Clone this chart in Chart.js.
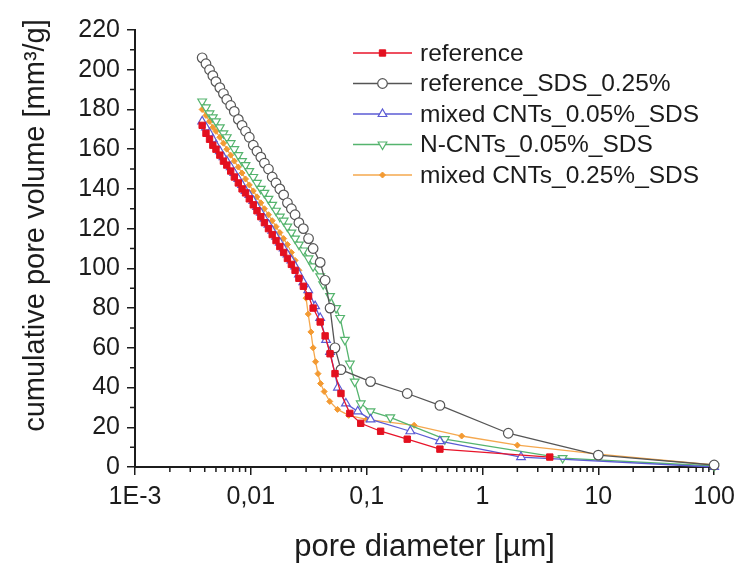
<!DOCTYPE html>
<html>
<head>
<meta charset="utf-8">
<script src="https://cdn.jsdelivr.net/npm/chart.js@4"></script>
<style>
  html, body { margin: 0; padding: 0; background: #fff; }
</style>
</head>
<body>
<canvas id="chart" width="742" height="576"></canvas>
<script>
// pore diameter (µm) vs cumulative pore volume (mm³/g)
const seriesNames = ["reference", "reference_SDS_0.25%", "mixed CNTs_0.05%_SDS", "N-CNTs_0.05%_SDS", "mixed CNTs_0.25%_SDS"];
const yTitle = "cumulative pore volume [mm³/g]";
const xTitle = "pore diameter [µm]";

const baseX = [0.0038, 0.0041, 0.0044, 0.0047, 0.0050, 0.0054, 0.0058, 0.0062, 0.0067, 0.0072, 0.0078, 0.0084, 0.0090, 0.0097,
  0.0105, 0.0113, 0.0122, 0.0131, 0.0142, 0.0153, 0.0165, 0.0178, 0.0192, 0.0207, 0.0224, 0.0241, 0.0260];

const refX = baseX.concat([0.0284, 0.0315, 0.0345, 0.0397, 0.0438, 0.0483, 0.0533, 0.0600, 0.0716, 0.0889, 0.132, 0.224, 0.429, 3.81]);
const refY = [172, 168, 165, 162, 160, 157, 154, 152, 149, 146, 143, 140, 138, 135, 132, 129, 126, 123, 120, 117, 114, 111, 108, 105, 102, 99, 95,
  91, 86, 80, 73, 66, 57, 47, 37, 27, 22, 18, 14, 9, 5];

const refSdsX = baseX.concat([0.0284, 0.0315, 0.0345, 0.0397, 0.0438, 0.0483, 0.0533, 0.0600, 0.108, 0.224, 0.429, 1.67, 10.0, 100]);
const refSdsY = [206, 203, 200, 197, 194, 191, 188, 185, 182, 179, 175, 172, 169, 166, 162, 159, 156, 153, 150, 146, 143, 140, 137, 133, 130, 127, 123,
  120, 115, 110, 103, 94, 80, 60, 49, 43, 37, 31, 17, 6, 1];

const mixed005X = baseX.concat([0.0284, 0.0313, 0.0359, 0.0397, 0.0446, 0.0483, 0.0565, 0.0662, 0.0838, 0.108, 0.238, 0.429, 2.15, 100]);
const mixed005Y = [174, 171, 168, 165, 162, 159, 156, 154, 151, 148, 145, 142, 139, 137, 134, 131, 128, 125, 122, 119, 116, 113, 110, 107, 104, 101, 97,
  93, 89, 81, 75, 64, 58, 40, 32, 28, 24, 18, 13, 5, 0];

const ncntX = baseX.concat([0.0284, 0.0315, 0.0345, 0.0397, 0.0421, 0.0483, 0.0545, 0.0590, 0.0649, 0.0716, 0.0789, 0.0889, 0.108, 0.160, 0.473, 4.92, 100]);
const ncntY = [184, 181, 178, 176, 174, 171, 168, 166, 163, 160, 157, 154, 152, 149, 146, 143, 140, 138, 135, 132, 129, 126, 124, 121, 118, 115, 112,
  109, 105, 101, 96, 92, 86, 80, 75, 64, 52, 43, 32, 28, 25, 14, 4.5, 0.5];

const mixed025X = baseX.concat([0.0284, 0.0300, 0.0313, 0.0330, 0.0345, 0.0362, 0.0380, 0.0400, 0.0430, 0.0480, 0.0560, 0.0700, 0.100, 0.257, 0.661, 2.00, 10.0, 100]);
const mixed025Y = [180, 177, 174, 171, 169, 166, 163, 160, 157, 154, 151, 148, 145, 142, 139, 136, 133, 130, 127, 124, 121, 118, 115, 112, 108, 104, 99,
  92, 85, 77, 68, 60, 53, 47, 42, 38, 33, 29, 26, 24, 21, 15.6, 11, 6.5, 1];

const xTickValues = [0.001, 0.01, 0.1, 1, 10, 100];
const xTickLabels = ["1E-3", "0,01", "0,1", "1", "10", "100"];

const FONT = "'Liberation Sans', Arial, Helvetica, sans-serif";
const INK = "#1c1c1c";

function pts(xs, ys) {
  return xs.map((x, i) => ({ x: x, y: ys[i] }));
}

const datasets = [
  { label: seriesNames[0], data: pts(refX, refY), borderColor: "#e8142a", backgroundColor: "#e3101f",
    pointStyle: "rect", pointRadius: 4.5, pointBorderWidth: 1, pointBorderColor: "#e3101f" },
  { label: seriesNames[1], data: pts(refSdsX, refSdsY), borderColor: "#555555", backgroundColor: "#ffffff",
    pointStyle: "circle", pointRadius: 4.8, pointBorderWidth: 1.2, pointBorderColor: "#555555" },
  { label: seriesNames[2], data: pts(mixed005X, mixed005Y), borderColor: "#5b5bd4", backgroundColor: "#ffffff",
    pointStyle: "triangle", pointRadius: 5, pointBorderWidth: 1.2, pointBorderColor: "#5b5bd4" },
  { label: seriesNames[3], data: pts(ncntX, ncntY), borderColor: "#55b46e", backgroundColor: "#ffffff",
    pointStyle: "triangle", pointRotation: 180, pointRadius: 5, pointBorderWidth: 1.2, pointBorderColor: "#55b46e" },
  { label: seriesNames[4], data: pts(mixed025X, mixed025Y), borderColor: "#f5a84e", backgroundColor: "#f39a32",
    pointStyle: "rectRot", pointRadius: 3, pointBorderWidth: 1, pointBorderColor: "#f39a32" }
].map(d => Object.assign(d, { borderWidth: 1.3, tension: 0, clip: false, showLine: true }));

// small unlabeled ticks between the labelled ones
const minorTicks = {
  id: "minorTicks",
  afterDraw(chart) {
    const ctx = chart.ctx;
    const xs = chart.scales.x, ys = chart.scales.y;
    ctx.save();
    ctx.strokeStyle = INK;
    ctx.lineWidth = 1.5;
    ctx.beginPath();
    for (let e = -3; e < 2; e++) {
      for (let k = 2; k <= 9; k++) {
        const px = xs.getPixelForValue(k * Math.pow(10, e));
        ctx.moveTo(px, xs.top);
        ctx.lineTo(px, xs.top + 5);
      }
    }
    for (let v = 10; v < 220; v += 20) {
      const py = ys.getPixelForValue(v);
      ctx.moveTo(ys.right - 5, py);
      ctx.lineTo(ys.right, py);
    }
    ctx.stroke();
    ctx.restore();
  }
};

// rotated y title, sitting a little above the axis middle
const yAxisTitle = {
  id: "yAxisTitle",
  afterDraw(chart) {
    const ctx = chart.ctx;
    const area = chart.chartArea;
    ctx.save();
    ctx.translate(36, (area.top + area.bottom) / 2 - 23);
    ctx.rotate(-Math.PI / 2);
    ctx.fillStyle = INK;
    ctx.font = "29px " + FONT;
    ctx.textAlign = "center";
    ctx.textBaseline = "middle";
    ctx.fillText(yTitle, 0, 0);
    ctx.restore();
  }
};

// legend drawn as line + marker + text, inside the plot
const lineLegend = {
  id: "lineLegend",
  afterDatasetsDraw(chart) {
    const ctx = chart.ctx;
    const area = chart.chartArea;
    const x0 = area.left + 218, x1 = area.left + 277, tx = area.left + 285;
    const rowH = 30.5;
    ctx.save();
    chart.data.datasets.forEach((ds, i) => {
      const y = area.top + 23 + i * rowH;
      ctx.strokeStyle = ds.borderColor;
      ctx.lineWidth = ds.borderWidth;
      ctx.beginPath();
      ctx.moveTo(x0, y);
      ctx.lineTo(x1, y);
      ctx.stroke();
      ctx.fillStyle = ds.backgroundColor;
      ctx.strokeStyle = ds.pointBorderColor;
      ctx.lineWidth = ds.pointBorderWidth;
      Chart.helpers.drawPoint(ctx, {
        pointStyle: ds.pointStyle,
        rotation: ds.pointRotation || 0,
        radius: ds.pointRadius,
        borderWidth: ds.pointBorderWidth
      }, (x0 + x1) / 2, y);
      ctx.fillStyle = INK;
      ctx.font = "24.5px " + FONT;
      ctx.textBaseline = "middle";
      ctx.textAlign = "left";
      ctx.fillText(ds.label, tx, y + 1);
    });
    ctx.restore();
  }
};

new Chart(document.getElementById("chart"), {
  type: "scatter",
  data: { datasets: datasets },
  plugins: [minorTicks, yAxisTitle, lineLegend],
  options: {
    responsive: false,
    devicePixelRatio: 1,
    animation: false,
    layout: { padding: { left: 0, top: 30, right: 25, bottom: 0 } },
    plugins: { legend: { display: false }, tooltip: { enabled: false } },
    scales: {
      x: {
        type: "logarithmic",
        min: 0.001,
        max: 100,
        afterBuildTicks: scale => { scale.ticks = xTickValues.map(v => ({ value: v, major: true })); },
        afterFit: scale => { scale.height = 109; },
        ticks: {
          color: INK,
          padding: 7,
          maxRotation: 0,
          autoSkip: false,
          font: { family: FONT, size: 25, lineHeight: 1.2 },
          callback: v => {
            const i = xTickValues.findIndex(t => Math.abs(Math.log10(t) - Math.log10(v)) < 1e-6);
            return i >= 0 ? xTickLabels[i] : "";
          }
        },
        grid: { display: true, drawOnChartArea: false, drawTicks: true, tickLength: 8, color: INK, lineWidth: 1.5 },
        border: { display: true, color: INK, width: 2 },
        title: { display: true, text: xTitle, color: INK,
          font: { family: FONT, size: 31, lineHeight: 1.2 }, padding: { top: 0, bottom: 10 } }
      },
      y: {
        min: 0,
        max: 220,
        afterFit: scale => { scale.width = 135; },
        ticks: { stepSize: 20, color: INK, padding: 7, font: { family: FONT, size: 25, lineHeight: 1.2 } },
        grid: { display: true, drawOnChartArea: false, drawTicks: true, tickLength: 8, color: INK, lineWidth: 1.5 },
        border: { display: true, color: INK, width: 2 },
        title: { display: false }
      }
    }
  }
});
</script>
</body>
</html>
